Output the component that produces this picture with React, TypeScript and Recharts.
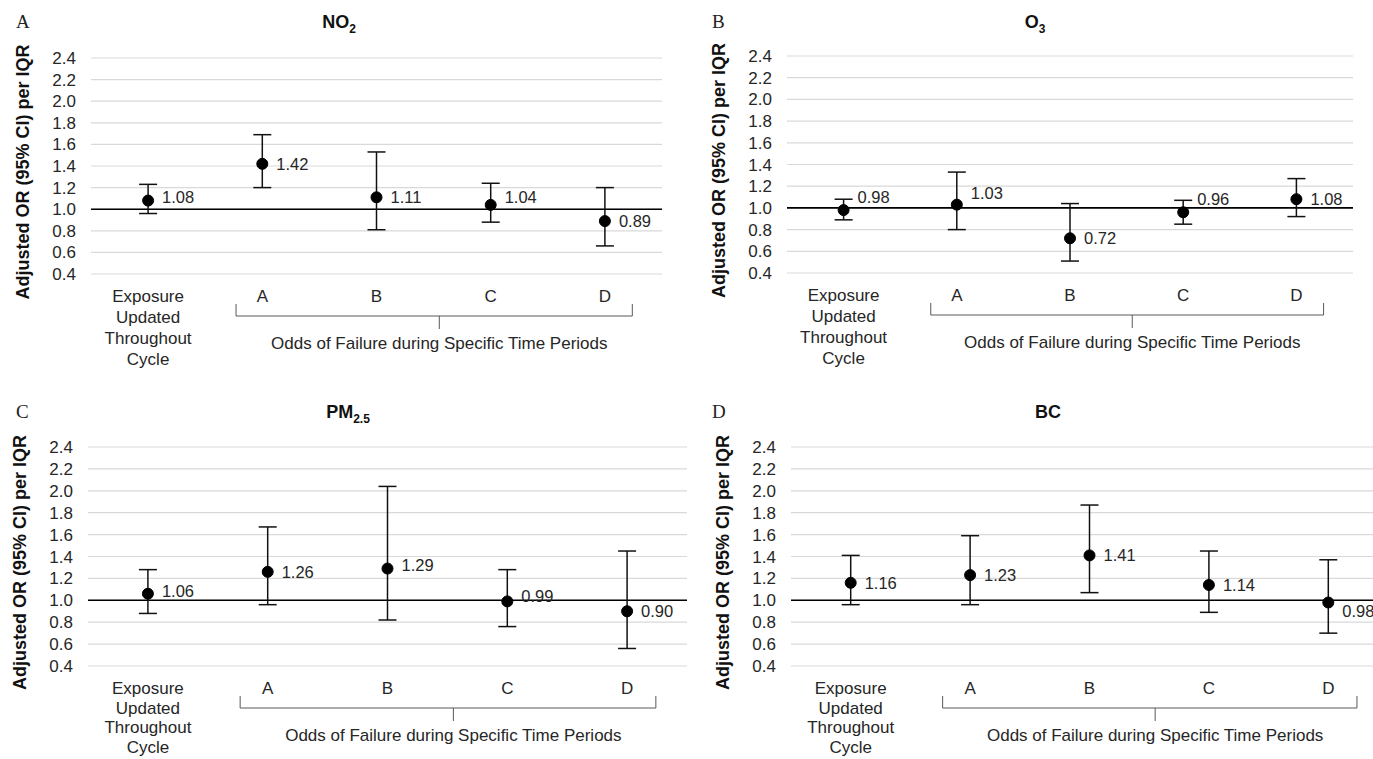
import React from "react";
import {
  ComposedChart,
  Line,
  ErrorBar,
  LabelList,
  XAxis,
  YAxis,
  CartesianGrid,
  ReferenceLine,
} from "recharts";

// categories shared by all four panels
const categories = ["Exposure Updated Throughout Cycle", "A", "B", "C", "D"];
const yTicks = [0.4, 0.6, 0.8, 1.0, 1.2, 1.4, 1.6, 1.8, 2.0, 2.2, 2.4];

// NO2
const no2Or = [1.08, 1.42, 1.11, 1.04, 0.89];
const no2Low = [0.96, 1.2, 0.81, 0.88, 0.66];
const no2High = [1.23, 1.69, 1.53, 1.24, 1.2];

// O3
const o3Or = [0.98, 1.03, 0.72, 0.96, 1.08];
const o3Low = [0.89, 0.8, 0.51, 0.85, 0.92];
const o3High = [1.08, 1.33, 1.04, 1.07, 1.27];

// PM2.5
const pmOr = [1.06, 1.26, 1.29, 0.99, 0.9];
const pmLow = [0.88, 0.96, 0.82, 0.76, 0.56];
const pmHigh = [1.28, 1.67, 2.04, 1.28, 1.45];

// BC
const bcOr = [1.16, 1.23, 1.41, 1.14, 0.98];
const bcLow = [0.96, 0.96, 1.07, 0.89, 0.7];
const bcHigh = [1.41, 1.59, 1.87, 1.45, 1.37];

const groupLabel = "Odds of Failure during Specific Time Periods";
const yLabel = "Adjusted OR (95% CI) per IQR";

const FONT = "'Liberation Sans', Arial, sans-serif";
const TEXT = "#262626";

const buildRows = (or: number[], low: number[], high: number[]) =>
  categories.map((name, i) => ({
    name,
    or: or[i],
    err: [+(or[i] - low[i]).toFixed(2), +(high[i] - or[i]).toFixed(2)],
  }));

function CategoryTick(props: any) {
  const { x, y, payload, index, band, lineGap } = props;
  const lines = String(payload.value).split(" ");
  const bracket = index === 1;
  const left = x - band * 0.23;
  const right = x + band * 3 + band * 0.24;
  const mid = x + band * 1.55;
  return (
    <g>
      <text textAnchor="middle" fontSize={17} fontFamily={FONT} fill={TEXT}>
        {lines.map((l: string, i: number) => (
          <tspan key={i} x={x} y={y + 28 + i * lineGap}>
            {l}
          </tspan>
        ))}
      </text>
      {bracket && (
        <g>
          <path
            d={`M${left},${y + 30} V${y + 42} H${right} V${y + 30} M${mid},${y + 42} V${y + 55}`}
            fill="none"
            stroke="#595959"
            strokeWidth={1}
          />
          <text
            x={mid}
            y={y + 75}
            textAnchor="middle"
            fontSize={17}
            fontFamily={FONT}
            fill={TEXT}
          >
            {groupLabel}
          </text>
        </g>
      )}
    </g>
  );
}

type PanelProps = {
  letter: string;
  title: React.ReactNode;
  or: number[];
  low: number[];
  high: number[];
  labelDy: number[];
  left: number;
  top: number;
  width: number;
  height: number;
  axisW: number;
  mTop: number;
  mRight: number;
  plotH: number;
  titleX: number;
  letterX: number;
  lineGap: number;
};

function Panel(p: PanelProps) {
  const rows = buildRows(p.or, p.low, p.high);
  const band = (p.width - p.axisW - p.mRight) / 5;
  return (
    <div
      style={{
        position: "absolute",
        left: p.left,
        top: p.top,
        width: p.width,
        height: p.height,
      }}
    >
      <div
        style={{
          position: "absolute",
          left: p.letterX,
          top: 12,
          lineHeight: 1,
          fontFamily: "'Liberation Serif', 'Times New Roman', serif",
          fontSize: 19,
          color: "#222",
        }}
      >
        {p.letter}
      </div>
      <div
        style={{
          position: "absolute",
          left: p.titleX - 60,
          width: 120,
          top: 12,
          textAlign: "center",
          fontFamily: FONT,
          fontWeight: "bold",
          fontSize: 18,
          color: "#111",
        }}
      >
        {p.title}
      </div>
      <ComposedChart
        width={p.width}
        height={p.height}
        data={rows}
        margin={{ top: p.mTop, right: p.mRight, bottom: 0, left: 0 }}
      >
        <CartesianGrid vertical={false} stroke="#d9d9d9" strokeWidth={1.2} />
        <XAxis
          dataKey="name"
          scale="band"
          interval={0}
          axisLine={false}
          tickLine={false}
          tickSize={0}
          tickMargin={0}
          height={p.height - p.mTop - p.plotH}
          tick={(tp: any) => (
            <CategoryTick {...tp} band={band} lineGap={p.lineGap} />
          )}
        />
        <YAxis
          domain={[0.4, 2.4]}
          ticks={yTicks}
          interval={0}
          width={p.axisW}
          axisLine={false}
          tickLine={false}
          tickMargin={9}
          tickFormatter={(v: number) => v.toFixed(1)}
          tick={{ fontSize: 17, fontFamily: FONT, fill: TEXT }}
          label={{
            content: (lp: any) => {
              const vb = lp.viewBox || {};
              const cx = vb.x + vb.width - 68;
              const cy = vb.y + vb.height / 2 + 6;
              return (
                <text
                  x={cx}
                  y={cy}
                  transform={`rotate(-90, ${cx}, ${cy})`}
                  textAnchor="middle"
                  dominantBaseline="central"
                  fontSize={18}
                  fontWeight="bold"
                  fontFamily={FONT}
                  fill="#111"
                >
                  {yLabel}
                </text>
              );
            },
          }}
        />
        <ReferenceLine y={1} stroke="#000" strokeWidth={1.6} />
        <Line
          dataKey="or"
          stroke="none"
          isAnimationActive={false}
          dot={{ r: 5.5, fill: "#000", stroke: "#000", strokeWidth: 1 }}
          activeDot={false}
        >
          <ErrorBar
            dataKey="err"
            direction="y"
            width={9}
            stroke="#111"
            strokeWidth={1.5}
          />
          <LabelList
            dataKey="or"
            content={(lp: any) => (
              <text
                x={lp.x + 14}
                y={lp.y + (p.labelDy[lp.index] || 0)}
                dominantBaseline="central"
                fontSize={16.5}
                fontFamily={FONT}
                fill={TEXT}
              >
                {Number(lp.value).toFixed(2)}
              </text>
            )}
          />
        </Line>
      </ComposedChart>
    </div>
  );
}

export default function App() {
  return (
    <div
      style={{
        position: "absolute",
        left: 0,
        top: 0,
        width: 1373,
        height: 759,
        overflow: "hidden",
        background: "#fff",
      }}
    >
      <Panel
        letter="A"
        title={<span>NO<sub style={{ fontSize: 12 }}>2</sub></span>}
        or={no2Or}
        low={no2Low}
        high={no2High}
        labelDy={[-4, 0, 0, -8, 0]}
        left={0}
        top={0}
        width={680}
        height={385}
        axisW={91}
        mTop={58}
        mRight={18}
        plotH={216}
        titleX={339}
        letterX={16}
        lineGap={21}
      />
      <Panel
        letter="B"
        title={<span>O<sub style={{ fontSize: 12 }}>3</sub></span>}
        or={o3Or}
        low={o3Low}
        high={o3High}
        labelDy={[-13, -12, 0, -13, 0]}
        left={690}
        top={0}
        width={683}
        height={385}
        axisW={97}
        mTop={56}
        mRight={20}
        plotH={217}
        titleX={345}
        letterX={22}
        lineGap={21}
      />
      <Panel
        letter="C"
        title={<span>PM<sub style={{ fontSize: 12 }}>2.5</sub></span>}
        or={pmOr}
        low={pmLow}
        high={pmHigh}
        labelDy={[-3, 0, -4, -5, 0]}
        left={0}
        top={390}
        width={690}
        height={369}
        axisW={88}
        mTop={57}
        mRight={3}
        plotH={219}
        titleX={348}
        letterX={16}
        lineGap={19.5}
      />
      <Panel
        letter="D"
        title={<span>BC</span>}
        or={bcOr}
        low={bcLow}
        high={bcHigh}
        labelDy={[0, 0, 0, 0, 9]}
        left={690}
        top={390}
        width={698}
        height={369}
        axisW={101}
        mTop={57}
        mRight={0}
        plotH={219}
        titleX={358}
        letterX={22}
        lineGap={19.5}
      />
    </div>
  );
}
